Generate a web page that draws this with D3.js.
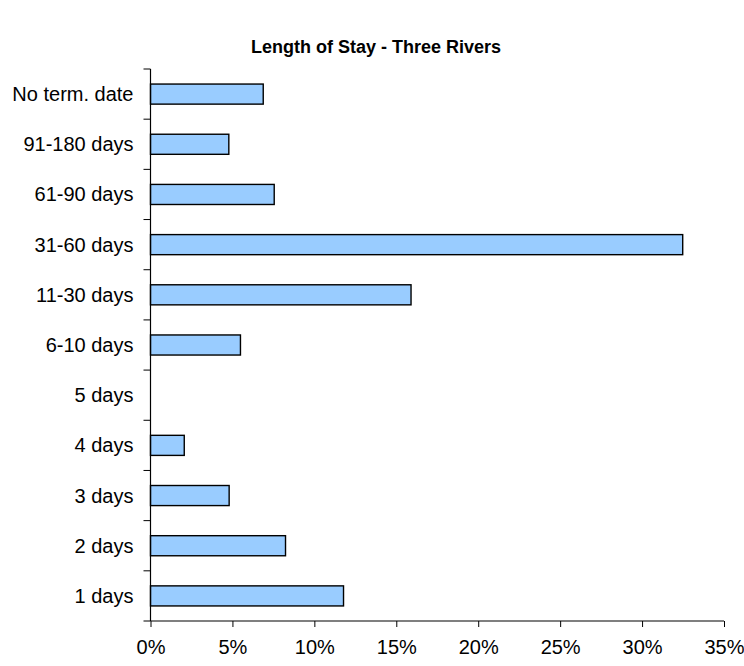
<!DOCTYPE html>
<html>
<head>
<meta charset="utf-8">
<script src="https://cdn.jsdelivr.net/npm/d3@7"></script>
<style>
  html, body { margin: 0; padding: 0; background: #fff; }
  svg { display: block; }
</style>
</head>
<body>
<script>
const categories = ["1 days", "2 days", "3 days", "4 days", "5 days", "6-10 days", "11-30 days", "31-60 days", "61-90 days", "91-180 days", "No term. date"];
const values = [11.78, 8.24, 4.80, 2.06, 0, 5.49, 15.9, 32.48, 7.55, 4.78, 6.88];
const xTicks = [0, 5, 10, 15, 20, 25, 30, 35];
const title = "Length of Stay - Three Rivers";

const W = 744, H = 666;
const svg = d3.select("body").append("svg").attr("width", W).attr("height", H);

const pLeft = 150.5, pRight = 724, pTop = 69, pBottom = 621;
const FONT = "Liberation Sans, Arial, sans-serif";

const x = d3.scaleLinear().domain([0, 35]).range([pLeft, pRight]);
const y = d3.scaleBand().domain(categories.slice().reverse()).range([pTop, pBottom]).paddingInner(0).paddingOuter(0);

// title
svg.append("text")
  .attr("x", 376).attr("y", 53)
  .attr("text-anchor", "middle")
  .attr("font-family", FONT)
  .attr("font-weight", "bold")
  .attr("font-size", 18)
  .attr("fill", "#000")
  .text(title);

// bars
const barH = y.bandwidth() * 0.4;
svg.append("g").selectAll("rect")
  .data(categories.map((c, i) => ({c, v: values[i]})).filter(d => d.v > 0))
  .join("rect")
  .attr("x", x(0))
  .attr("y", d => y(d.c) + (y.bandwidth() - barH) / 2)
  .attr("width", d => x(d.v) - x(0))
  .attr("height", barH)
  .attr("fill", "#99CCFF")
  .attr("stroke", "#000")
  .attr("stroke-width", 1.4);

// x axis
const xAxis = d3.axisBottom(x).tickValues(xTicks).tickFormat(d => d + "%").tickSize(6).tickPadding(13);
const gx = svg.append("g").attr("transform", `translate(0,${pBottom})`).call(xAxis);
gx.select(".domain").attr("stroke", "#000").attr("stroke-width", 1.2).attr("d", `M${pLeft},0H${pRight}`);
gx.selectAll(".tick line").attr("stroke", "#000");
gx.selectAll("text").attr("font-family", FONT).attr("font-size", 20).attr("fill", "#000");

// y axis: ticks at band boundaries
const gy = svg.append("g").attr("transform", `translate(${pLeft},0)`);
gy.append("line").attr("x1", 0).attr("x2", 0).attr("y1", pTop).attr("y2", pBottom).attr("stroke", "#000").attr("stroke-width", 1.2);
const bounds = categories.map(c => y(c)).concat([pBottom]);
gy.selectAll("line.tk").data(bounds).join("line").attr("class", "tk")
  .attr("x1", -7).attr("x2", 0)
  .attr("y1", d => d).attr("y2", d => d)
  .attr("stroke", "#000");
gy.selectAll("text").data(categories).join("text")
  .attr("x", -17)
  .attr("y", d => y(d) + y.bandwidth() / 2)
  .attr("dy", "0.35em")
  .attr("text-anchor", "end")
  .attr("font-family", FONT)
  .attr("font-size", 20)
  .attr("fill", "#000")
  .text(d => d);
</script>
</body>
</html>
